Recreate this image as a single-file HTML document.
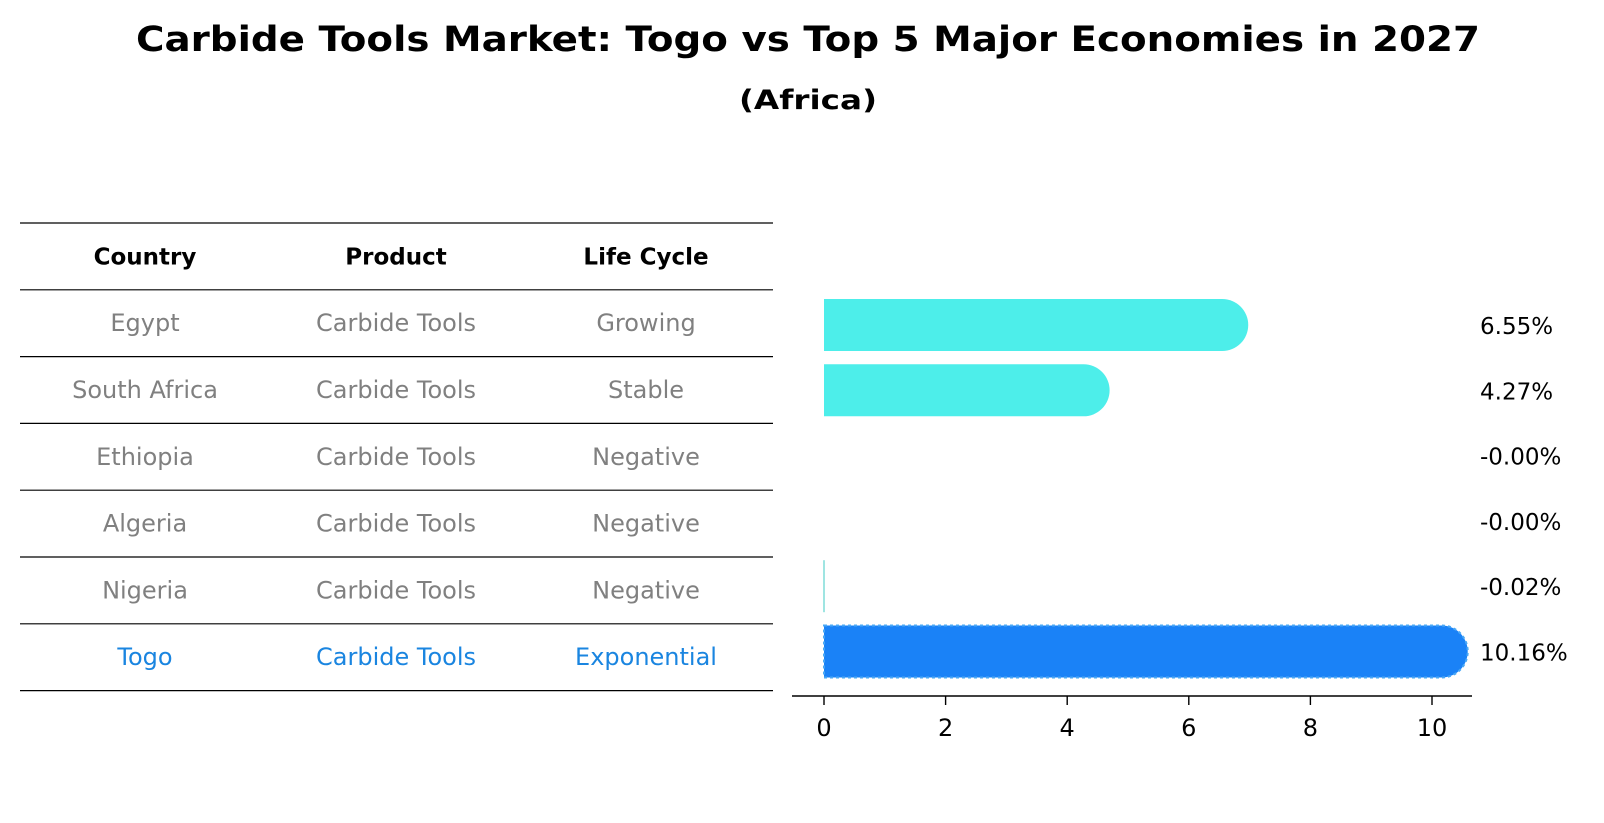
<!DOCTYPE html>
<html><head><meta charset="utf-8"><style>
html,body{margin:0;padding:0;background:#fff;}
svg{display:block;font-family:"DejaVu Sans","Liberation Sans",sans-serif;}
</style></head><body>
<svg id="chart" width="1604" height="823" viewBox="0 0 1604 823" xmlns="http://www.w3.org/2000/svg">
<text x="808" y="51" text-anchor="middle" font-size="35" font-weight="bold" textLength="1344" lengthAdjust="spacingAndGlyphs">Carbide Tools Market: Togo vs Top 5 Major Economies in 2027</text>
<text x="808" y="109" text-anchor="middle" font-size="27" font-weight="bold" textLength="138" lengthAdjust="spacingAndGlyphs">(Africa)</text>
<g id="table"></g>
<g id="bars"></g>
</svg>
<script>
const countries = ["Egypt","South Africa","Ethiopia","Algeria","Nigeria","Togo"];
const products = ["Carbide Tools","Carbide Tools","Carbide Tools","Carbide Tools","Carbide Tools","Carbide Tools"];
const lifeCycles = ["Growing","Stable","Negative","Negative","Negative","Exponential"];
const growth = [6.55,4.27,-0.001,-0.001,-0.02,10.16];
const valueLabels = ["6.55%","4.27%","-0.00%","-0.00%","-0.02%","10.16%"];
const xTicks = [0,2,4,6,8,10];
const headers = ["Country","Product","Life Cycle"];

const NS="http://www.w3.org/2000/svg";
function mk(tag,attrs,parent){const e=document.createElementNS(NS,tag);for(const k in attrs)e.setAttribute(k,attrs[k]);parent.appendChild(e);return e;}

// table
const tbl=document.getElementById('table');
const colX=[145,396,646];
const rowTop=223, rowH=66.8;
for(let i=0;i<=countries.length+1;i++){
  const l=mk('line',{x1:20,x2:773,y1:rowTop+i*rowH,y2:rowTop+i*rowH,stroke:'#000','stroke-width':1.2},tbl);
  
  
}
headers.forEach((h,j)=>{
  const t=mk('text',{x:colX[j],y:rowTop+rowH/2+8,'text-anchor':'middle','font-size':23,'font-weight':'bold',fill:'#000'},tbl);
  t.textContent=h;
  
  
});
countries.forEach((c,i)=>{
  const vals=[c,products[i],lifeCycles[i]];
  const col=c==="Togo"?'#1a85e0':'#808080';
  vals.forEach((v,j)=>{
    const t=mk('text',{x:colX[j],y:rowTop+(i+1.5)*rowH+8,'text-anchor':'middle','font-size':24,fill:col},tbl);
    t.textContent=v;
    
    
  });
});

// bar chart
const g=document.getElementById('bars');
const x0=824, pxPer=60.8;
const xs=v=>x0+v*pxPer;
const firstCenter=325, step=65.3, barH=52, r=26;
const axisY=696;
growth.forEach((v,i)=>{
  const cy=firstCenter+i*step, top=cy-barH/2;
  const isTogo=countries[i]==="Togo";
  const fill=isTogo?'#1a82f7':'#4deeea';
  let el;
  if(v>0.05){
    const xe=xs(v);
    el=mk('path',{d:`M${x0},${top} H${xe} A${r},${r} 0 0 1 ${xe},${top+barH} H${x0} Z`,fill:fill},g);
    if(isTogo){el.setAttribute('stroke','#4aa8f5');el.setAttribute('stroke-width',2);el.setAttribute('stroke-dasharray','3 3');}
  } else if(v<-0.01){
    el=mk('line',{x1:x0,x2:x0,y1:top,y2:top+barH,stroke:'#7fdcd8','stroke-width':1.5},g);
  } else {
    el=mk('rect',{x:x0,y:top,width:0,height:barH,fill:fill},g);
  }
  
  
  const t=mk('text',{x:1480,y:cy+9,'font-size':23,fill:'#000'},g);
  t.textContent=valueLabels[i];
  
  
});
const ax=mk('line',{x1:792,x2:1472,y1:axisY,y2:axisY,stroke:'#000','stroke-width':1.6},g);


xTicks.forEach(v=>{
  const tk=mk('line',{x1:xs(v),x2:xs(v),y1:axisY,y2:axisY+9,stroke:'#000','stroke-width':1.4},g);
  
  
  const t=mk('text',{x:xs(v),y:axisY+40,'text-anchor':'middle','font-size':24,fill:'#000'},g);
  t.textContent=v;
  
  
});
</script>
</body></html>
